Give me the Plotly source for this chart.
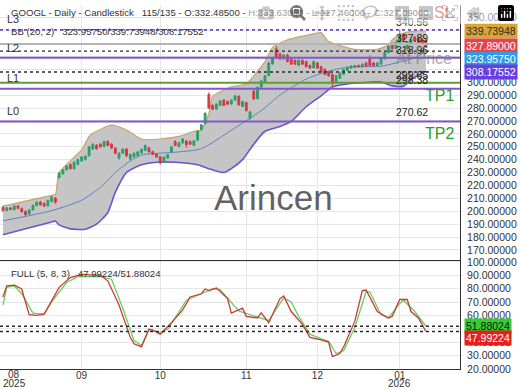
import plotly.graph_objects as go
import pandas as pd

# ---------------- data ----------------
holidays = ["2025-09-01", "2025-11-27", "2025-12-25", "2026-01-01"]
dates = [d.strftime("%Y-%m-%d") for d in pd.bdate_range("2025-08-01", "2026-01-13")
         if d.strftime("%Y-%m-%d") not in holidays]

opens = [203.0, 200.5, 202.4, 201.2, 204.0, 202.0, 199.8, 197.8, 201.0, 204.3,
         207.1, 206.0, 204.2, 207.6, 210.2, 226.0, 229.0, 232.2, 236.2, 233.0,
         236.4, 239.0, 240.2, 243.0, 248.2, 251.2, 252.0, 250.2, 254.2, 252.0,
         249.0, 241.2, 245.0, 248.2, 240.4, 242.2, 243.2, 245.2, 247.2, 249.2,
         246.2, 244.2, 242.2, 238.0, 241.2, 246.0, 254.0, 250.2, 253.0, 254.4,
         254.0, 251.2, 255.0, 263.2, 268.0, 290.5, 282.0, 279.2, 282.2, 286.2,
         285.0, 283.2, 286.2, 289.2, 281.2, 284.2, 272.2, 293.0, 287.2, 296.2,
         300.2, 305.2, 314.2, 326.0, 322.0, 318.2, 321.0, 318.0, 317.0, 313.2,
         317.0, 316.0, 313.0, 311.2, 315.0, 312.0, 310.0, 308.0, 306.0, 300.0,
         303.2, 306.2, 309.2, 311.0, 311.5, 313.0, 312.0, 315.0, 318.0, 315.0,
         313.0, 314.2, 318.2, 323.0, 330.0, 326.2, 331.0, 337.0, 326.0, 330.2,
         335.0, 334.0, 333.0, 332.485]
highs = [204.2, 203.3, 203.2, 204.8, 205.1, 202.8, 200.6, 201.6, 205.2, 207.8,
         208.0, 206.8, 209.0, 211.8, 211.0, 230.4, 232.8, 235.6, 237.0, 238.6,
         240.8, 242.8, 243.4, 250.6, 252.8, 252.0, 252.8, 254.8, 255.0, 252.8,
         249.8, 245.8, 248.8, 249.0, 244.6, 245.6, 246.8, 248.6, 251.8, 250.0,
         247.0, 245.0, 243.0, 242.6, 244.4, 250.6, 255.2, 253.8, 256.4, 255.2,
         254.8, 255.2, 262.6, 267.8, 276.6, 292.2, 282.8, 283.8, 286.2, 287.0,
         285.8, 286.8, 290.2, 290.0, 285.8, 285.0, 277.8, 294.2, 296.8, 301.8,
         305.8, 315.8, 319.8, 328.2, 322.8, 321.8, 321.8, 318.8, 317.8, 317.8,
         317.8, 316.8, 313.8, 316.8, 315.8, 312.8, 310.8, 308.8, 306.8, 305.8,
         307.8, 310.6, 312.2, 313.2, 313.6, 313.8, 314.6, 315.8, 321.0, 315.8,
         315.6, 319.6, 323.6, 328.6, 330.8, 331.6, 340.56, 337.8, 331.6, 333.8,
         335.8, 334.8, 333.8, 333.63]
lows = [199.6, 199.8, 200.8, 200.6, 201.6, 199.0, 196.2, 197.2, 200.5, 203.8,
        204.4, 203.2, 203.6, 207.0, 205.8, 225.2, 228.2, 231.4, 232.4, 232.4,
        235.6, 238.4, 239.2, 242.4, 247.6, 247.8, 249.2, 249.6, 250.4, 248.4,
        244.2, 240.0, 244.4, 242.0, 239.6, 241.6, 242.6, 244.6, 246.6, 245.4,
        243.4, 241.4, 236.2, 237.4, 240.6, 245.4, 250.4, 249.6, 252.4, 249.2,
        251.2, 250.6, 254.4, 262.6, 267.4, 279.4, 278.4, 278.6, 281.6, 281.4,
        282.4, 282.6, 285.6, 281.8, 280.6, 277.4, 271.0, 286.4, 286.6, 295.6,
        299.6, 304.6, 313.6, 318.4, 317.4, 317.6, 315.4, 313.4, 313.4, 312.6,
        313.4, 311.4, 310.4, 310.6, 310.4, 307.4, 305.4, 304.4, 296.5, 299.4,
        302.6, 305.6, 308.6, 310.4, 310.8, 311.4, 311.4, 311.8, 312.4, 312.4,
        312.4, 313.6, 317.6, 322.4, 325.4, 325.6, 330.4, 332.4, 324.0, 329.6,
        331.4, 330.4, 329.4, 327.46]
closes = [200.5, 202.6, 201.5, 204.1, 202.2, 199.6, 197.4, 201.0, 204.6, 207.0,
          205.0, 204.0, 208.4, 211.0, 207.0, 229.5, 232.0, 235.0, 233.0, 238.0,
          240.0, 242.0, 242.6, 250.0, 252.0, 248.5, 250.0, 254.0, 251.0, 249.0,
          245.0, 245.0, 248.0, 243.0, 244.0, 245.0, 246.0, 248.0, 251.0, 246.0,
          244.0, 242.0, 237.5, 242.0, 243.8, 250.0, 251.0, 253.0, 256.0, 251.5,
          252.0, 254.5, 262.0, 267.0, 276.0, 280.0, 279.0, 283.0, 285.5, 282.0,
          283.0, 286.0, 289.5, 282.5, 285.0, 278.0, 277.0, 287.0, 296.0, 301.0,
          305.0, 315.0, 319.0, 319.0, 318.0, 321.0, 316.0, 314.0, 314.0, 317.0,
          314.0, 312.0, 311.0, 316.0, 311.0, 308.0, 306.0, 305.0, 299.0, 305.0,
          307.0, 310.0, 311.5, 312.5, 313.0, 312.0, 314.0, 312.5, 313.0, 313.0,
          315.0, 319.0, 323.0, 328.0, 326.0, 331.0, 336.0, 333.0, 331.0, 333.0,
          332.0, 331.0, 330.0, 327.89]

# Bollinger bands (bar index, value)
bb_upper_idx = [0, 13, 14, 15, 21, 23, 24, 29, 33, 37, 42, 47, 51, 53, 55, 56, 58, 61,
                65, 67, 70, 72, 76, 83, 85, 87, 94, 100, 103, 104, 106, 109, 113]
bb_upper = [203.9, 212.3, 213.0, 230.0, 247.5, 258.0, 260.5, 266.8, 263.0, 256.0, 256.0,
            258.0, 262.0, 263.0, 275.8, 289.0, 292.6, 296.5, 298.7, 305.0, 316.0, 327.0,
            333.0, 337.5, 338.5, 331.6, 325.5, 325.5, 329.0, 333.0, 337.0, 339.5, 339.73948]
bb_mid_idx = [0, 13, 21, 26, 30, 34, 37, 42, 47, 53, 61, 69, 74, 81, 87, 92, 101, 105, 110, 113]
bb_mid = [192.6, 200.4, 208.5, 218.4, 230.0, 239.0, 243.6, 245.0, 246.0, 248.5, 262.7,
          278.0, 290.0, 302.5, 308.6, 311.7, 312.5, 315.0, 319.0, 323.9575]
bb_lower_idx = [0, 5, 13, 14, 15, 18, 22, 25, 28, 30, 33, 37, 41, 46, 52, 55, 59, 61, 64,
                67, 70, 74, 77, 81, 85, 88, 92, 101, 104, 107, 110, 113]
bb_lower = [181.7, 185.6, 191.7, 192.4, 189.4, 186.3, 186.0, 190.0, 199.0, 214.6, 230.0,
            236.0, 238.0, 238.0, 236.0, 233.0, 230.0, 233.0, 240.0, 252.0, 262.0, 265.7,
            269.6, 281.0, 289.5, 296.4, 298.7, 300.2, 297.2, 297.0, 304.0, 308.17552]

# Full stochastic (5, 8, 3)
stk_idx = [0, 1, 3, 5, 7, 9, 11, 15, 18, 21, 26, 28, 31, 34, 35, 37, 39, 40, 42, 45, 48,
           50, 53, 54, 55, 57, 60, 61, 64, 65, 68, 69, 71, 74, 75, 77, 80, 82, 85, 87,
           88, 90, 91, 94, 96, 97, 100, 103, 104, 106, 108, 109, 111, 113]
stk_k = [73.8, 82.2, 82.7, 79.8, 60.5, 60.0, 61.0, 81.0, 88.3, 90.7, 90.0, 85.9, 67.8,
         43.6, 38.8, 36.4, 49.6, 49.0, 46.0, 54.5, 64.1, 73.8, 76.2, 79.8, 78.6, 80.6,
         72.6, 61.7, 65.4, 59.3, 58.1, 62.0, 54.5, 72.6, 74.5, 62.9, 53.3, 43.6, 41.7,
         40.0, 29.1, 31.5, 36.4, 55.7, 78.6, 79.0, 62.9, 58.1, 59.3, 71.9, 71.9, 62.9,
         58.1, 47.99224]
std_idx = [0, 1, 3, 5, 8, 11, 13, 17, 20, 26, 29, 32, 35, 37, 39, 42, 44, 46, 49, 53, 56,
           58, 61, 63, 66, 69, 71, 72, 75, 77, 79, 82, 85, 87, 89, 91, 94, 97, 98, 101,
           103, 106, 107, 110, 113]
std_d = [67.8, 81.0, 82.2, 76.2, 61.7, 61.0, 70.1, 84.6, 89.0, 89.0, 87.1, 65.4, 41.2,
         37.5, 49.6, 47.2, 49.6, 58.1, 71.4, 76.2, 79.8, 79.3, 70.1, 63.4, 60.5, 58.1,
         56.2, 60.5, 73.1, 70.0, 59.3, 46.0, 42.4, 40.7, 31.5, 33.6, 50.9, 77.9, 77.5,
         60.5, 58.1, 69.0, 71.4, 62.9, 51.88024]

# horizontal levels
level_vals = [340.56, 329.7, 318.96, 299.65, 294.9, 269.6]
level_colors = ["#7446c4", "#b4b4b4", "#8457c9", "#5e9c34", "#8457c9", "#8457c9"]
level_dash = ["dot", "solid", "solid", "solid", "solid", "solid"]
dotted_vals = [324.1, 307.9]
level_labels = [340.56, 327.89, 318.96, 299.65, 298.38, 270.62]
stoch_lines = [51.88024, 47.99224]

price_tags = [339.73948, 327.89, 323.9575, 308.17552]
price_tag_bg = ["#d9a537", "#e5434a", "#2f9be6", "#6a3ee3"]
price_tag_fg = ["#2b2b2b", "white", "white", "white"]
price_tag_shift = [0, 0, -8, 0]
stoch_tags = [51.88024, 47.99224]
stoch_tag_bg = ["#33cc33", "#e3201f"]
stoch_tag_fg = ["#111111", "white"]
stoch_tag_shift = [0, -7]

# first trading day of each month
month_ticks = ["2025-09-02", "2025-10-01", "2025-11-03", "2025-12-01", "2026-01-02"]
month_text = ["09", "10", "11", "12", "01"]

# ---------------- figure ----------------
W_PLOT, H_PLOT = 460.0, 369.0
FONT = "Liberation Sans, sans-serif"


def px(xp):
    return xp / W_PLOT


def py(yp):
    return 1 - yp / H_PLOT


fig = go.Figure()

up_x = [dates[i] for i in bb_upper_idx]
lo_x = [dates[i] for i in bb_lower_idx]
fig.add_trace(go.Scatter(x=up_x + lo_x[::-1], y=bb_upper + bb_lower[::-1], fill="toself",
                         fillcolor="#c5c5c5", line=dict(width=0), mode="lines",
                         xaxis="x2", yaxis="y", hoverinfo="skip"))
fig.add_trace(go.Scatter(x=up_x, y=bb_upper, mode="lines", line=dict(color="#c9a466", width=1.2,
                         shape="spline", smoothing=0.6), xaxis="x2", yaxis="y"))
fig.add_trace(go.Scatter(x=lo_x, y=bb_lower, mode="lines", line=dict(color="#6655d6", width=1.6,
                         shape="spline", smoothing=0.6), xaxis="x2", yaxis="y"))
fig.add_trace(go.Scatter(x=[dates[i] for i in bb_mid_idx], y=bb_mid, mode="lines",
                         line=dict(color="#5f82c2", width=1, shape="spline", smoothing=0.6),
                         xaxis="x2", yaxis="y"))

fig.add_trace(go.Candlestick(x=dates, open=opens, high=highs, low=lows, close=closes,
                             increasing=dict(line=dict(color="#2e9e68", width=1), fillcolor="#2e9e68"),
                             decreasing=dict(line=dict(color="#d23a48", width=1), fillcolor="#d23a48"),
                             xaxis="x2", yaxis="y3", whiskerwidth=0))

fig.add_trace(go.Scatter(x=[dates[i] for i in std_idx], y=std_d, mode="lines",
                         line=dict(color="#62d062", width=1.3), xaxis="x", yaxis="y2"))
fig.add_trace(go.Scatter(x=[dates[i] for i in stk_idx], y=stk_k, mode="lines",
                         line=dict(color="#cc3a35", width=1.3), xaxis="x", yaxis="y2"))

x_range = ["2025-07-31 04:48", "2026-01-26 02:24"]
breaks = [dict(bounds=["sat", "mon"]), dict(values=holidays)]
split = 1 - 259 / H_PLOT
up_range = [161.8, 359.9]
lo_range = [19.9, 101.1]
grid = "#e6e6e6"
axis_font = dict(family=FONT, size=10.5, color="#333")

shapes = []
for v, c, d in zip(level_vals, level_colors, level_dash):
    shapes.append(dict(type="line", xref="paper", x0=0, x1=1, yref="y", y0=v, y1=v,
                       line=dict(color=c, width=2 if d == "solid" else 1.8, dash=d)))
for v in dotted_vals:
    shapes.append(dict(type="line", xref="paper", x0=0, x1=1, yref="y", y0=v, y1=v,
                       line=dict(color="#2a2a2a", width=1.4, dash="dot")))
for v in stoch_lines:
    shapes.append(dict(type="line", xref="paper", x0=0, x1=1, yref="y2", y0=v, y1=v,
                       line=dict(color="#2a2a2a", width=1.4, dash="dot")))

ann = []
nb = "\u00a0"
ann.append(dict(text="GOOGL - Daily - Candlestick" + nb * 3 +
                "115/135 - O:332.48500 - H:333.63000 - L:327.46000 - C:327.89000",
                x=px(9), y=py(8), xanchor="left", yanchor="middle"))
ann.append(dict(text="BB (20, 2)" + nb * 3 + "323.95750/339.73948/308.17552",
                x=px(9), y=py(27), xanchor="left", yanchor="middle"))
ann.append(dict(text="FULL (5, 8, 3)" + nb * 3 + "47.99224/51.88024",
                x=px(9), y=py(272), xanchor="left", yanchor="middle"))
for t, yy in zip(["L3", "L2", "L1", "L0"], [14, 44, 74, 107]):
    ann.append(dict(text=t, x=px(5), y=py(yy), xanchor="left", yanchor="middle",
                    font=dict(family=FONT, size=11, color="#333")))
for v in level_labels:
    ann.append(dict(text=f"{v:.2f}", x=px(394), y=v, yref="y", xanchor="left",
                    yanchor="bottom", yshift=-4 if v == 298.38 else 0,
                    font=dict(family=FONT, size=10.5, color="#222")))
ann.append(dict(text="SL", x=px(444), y=py(8), xanchor="center", yanchor="middle",
                font=dict(family=FONT, size=16, color="#d03030")))
ann.append(dict(text="At Price", x=px(424), y=py(54), xanchor="center", yanchor="middle",
                font=dict(family=FONT, size=16, color="rgba(120,120,120,0.65)")))
for t, yy in zip(["TP1", "TP2"], [92, 130]):
    ann.append(dict(text=t, x=px(439), y=py(yy), xanchor="center", yanchor="middle",
                    font=dict(family=FONT, size=16, color="#2e9a2e")))
ann.append(dict(text="Arincen", x=px(273), y=py(195), xanchor="center", yanchor="middle",
                font=dict(family=FONT, size=35, color="rgba(70,70,70,0.85)")))
ann.append(dict(text="08", x=px(14), y=py(375), xanchor="center", yanchor="middle",
                font=dict(family=FONT, size=10, color="#333")))
ann.append(dict(text="2025", x=px(14), y=py(384), xanchor="center", yanchor="middle",
                font=dict(family=FONT, size=10, color="#333")))
ann.append(dict(text="2026", x="2026-01-02", xref="x", y=py(384), xanchor="center",
                yanchor="middle", font=dict(family=FONT, size=10, color="#333")))
for v, bg, fg, sh in zip(price_tags, price_tag_bg, price_tag_fg, price_tag_shift):
    ann.append(dict(text=f"{v:.5f}", x=1, xshift=4, y=v, yref="y", xanchor="left",
                    yanchor="middle", yshift=sh, bgcolor=bg, borderpad=1,
                    font=dict(family=FONT, size=10.5, color=fg)))
for v, bg, fg, sh in zip(stoch_tags, stoch_tag_bg, stoch_tag_fg, stoch_tag_shift):
    ann.append(dict(text=f"{v:.5f}", x=1, xshift=4, y=v, yref="y2", xanchor="left",
                    yanchor="middle", yshift=sh, bgcolor=bg, borderpad=1,
                    font=dict(family=FONT, size=10.5, color=fg)))
for a in ann:
    a.setdefault("xref", "paper")
    a.setdefault("yref", "paper")
    a.setdefault("showarrow", False)
    a.setdefault("font", dict(family=FONT, size=9.6, color="#333"))

fig.update_layout(
    width=520, height=390, margin=dict(l=0, r=60, t=0, b=21),
    paper_bgcolor="white", plot_bgcolor="white", showlegend=False,
    font=dict(family=FONT, size=10, color="#333"),
    xaxis=dict(domain=[0, 1], anchor="y2", type="date", range=x_range, rangebreaks=breaks,
               tickvals=month_ticks, ticktext=month_text,
               tickfont=dict(family=FONT, size=10, color="#333"), ticklabelstandoff=-3,
               showgrid=True, gridcolor=grid, showline=True, linecolor="#333", linewidth=1,
               ticks="", zeroline=False, rangeslider=dict(visible=False)),
    xaxis2=dict(domain=[0, 1], anchor="y", type="date", range=x_range, rangebreaks=breaks,
                matches="x", tickvals=month_ticks, showticklabels=False, showgrid=True,
                gridcolor=grid, showline=True, linecolor="#333", linewidth=1, ticks="",
                zeroline=False, rangeslider=dict(visible=False)),
    yaxis=dict(domain=[split, 1], anchor="x2", side="right", range=up_range, dtick=10,
               tick0=0, tickformat=".5f", tickfont=axis_font, showgrid=True, gridcolor=grid,
               showline=True, linecolor="#333", linewidth=1, ticks="", zeroline=False,
               ticklabelstandoff=4),
    yaxis3=dict(overlaying="y", anchor="x2", side="right", range=up_range, visible=False,
                showgrid=False),
    yaxis2=dict(domain=[0, split], anchor="x", side="right", range=lo_range, dtick=10,
                tick0=0, tickformat=".5f", tickfont=axis_font, showgrid=True, gridcolor=grid,
                showline=True, linecolor="#333", linewidth=1, ticks="", zeroline=False,
                ticklabelstandoff=4),
    shapes=shapes, annotations=ann,
)

fig.write_html("out.html", post_script="document.body.style.margin='0px';")
